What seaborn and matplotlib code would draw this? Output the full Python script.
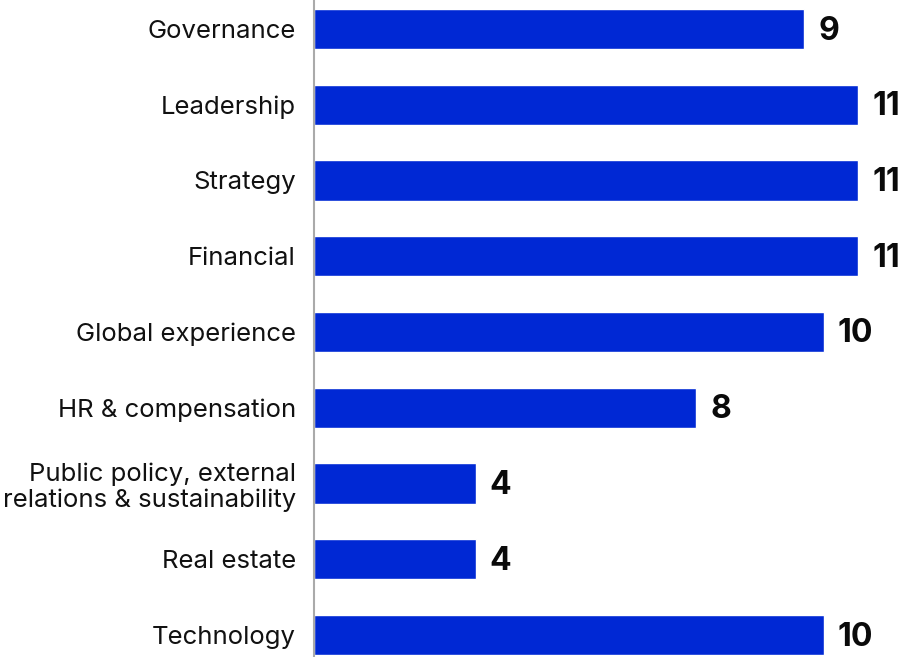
import matplotlib
matplotlib.use("Agg")
import matplotlib.pyplot as plt
import seaborn as sns
import pandas as pd

categories = ["Governance", "Leadership", "Strategy", "Financial", "Global experience",
              "HR & compensation", "Public policy, external\nrelations & sustainability",
              "Real estate", "Technology"]
# bar lengths as drawn
bar_values = [9.9, 11.0, 11.0, 11.0, 10.3, 7.72, 3.27, 3.27, 10.3]
value_labels = ["9", "11", "11", "11", "10", "8", "4", "4", "10"]

sns.set_theme(style="white")
plt.rcParams['font.family'] = ['Inter', 'DejaVu Sans']

df = pd.DataFrame({"cat": categories, "val": bar_values})

fig = plt.figure(figsize=(9, 6.57), dpi=100)
ax = fig.add_axes([314/900, 0, 586/900, 1])
sns.barplot(data=df, y="cat", x="val", orient="h", color="#0028D4",
            width=0.53, saturation=1, ax=ax)

ax.set_xlim(0, 586/49.5)
ax.set_ylim(8 + 22/75.75, -29/75.75)
ax.set_xlabel("")
ax.set_ylabel("")
ax.set_xticks([])
for s in ["top", "right", "bottom"]:
    ax.spines[s].set_visible(False)
ax.spines["left"].set_color("#aaaaaa")
ax.spines["left"].set_linewidth(1.5)
ax.tick_params(axis="y", length=0, pad=13, labelsize=18.5, labelcolor="#111111")
for lbl in ax.get_yticklabels():
    lbl.set_horizontalalignment("right")
    lbl.set_multialignment("right")
    lbl.set_linespacing(1.15)

for i, (v, t) in enumerate(zip(bar_values, value_labels)):
    ax.annotate(t, xy=(v, i), xytext=(14, -2), textcoords="offset pixels",
                va="center", ha="left", fontsize=23, fontweight="bold",
                color="#0a0a0a", annotation_clip=False)

fig.savefig("out.png", dpi=100)
